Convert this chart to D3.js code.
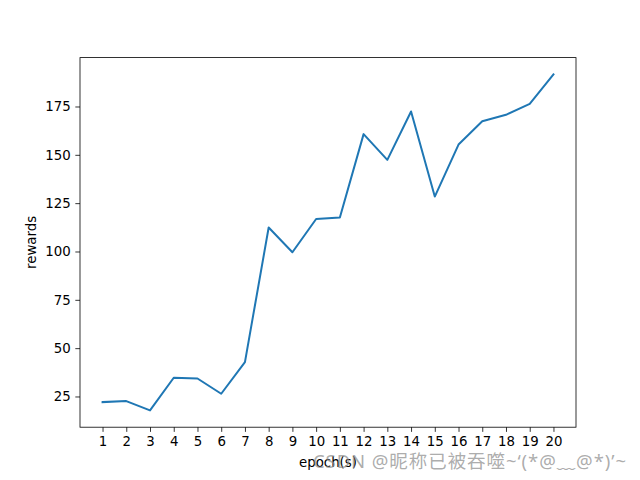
<!DOCTYPE html>
<html><head><meta charset="utf-8">
<script src="https://cdn.jsdelivr.net/npm/d3@7"></script>
<style>body{margin:0;background:#fff}svg{display:block}</style>
</head><body>
<svg id="c" width="640" height="480"></svg>
<script>
const epochs = [1,2,3,4,5,6,7,8,9,10,11,12,13,14,15,16,17,18,19,20];
const rewards = [22.1,22.6,17.8,34.7,34.3,26.4,42.8,112.4,99.6,116.8,117.6,160.7,147.4,172.4,128.4,155.3,167.4,170.7,176.4,191.6];
const yTicks = [25,50,75,100,125,150,175];
const xLabel = "epoch(s)";
const yLabel = "rewards";
const watermark = "CSDN @昵称已被吞噬~‘(*@﹏@*)’~";

const svg = d3.select("#c");
const L=80,R=576,T=57.6,B=427.2;
const xmin=d3.min(epochs), xmax=d3.max(epochs);
const ymin=d3.min(rewards), ymax=d3.max(rewards);
const xp=(xmax-xmin)*0.05, yp=(ymax-ymin)*0.05;
const x=d3.scaleLinear().domain([xmin-xp,xmax+xp]).range([L,R]);
const y=d3.scaleLinear().domain([ymin-yp,ymax+yp]).range([B,T]);
const font='"DejaVu Sans", sans-serif';

const xa=svg.append("g").attr("transform",`translate(0,${B})`)
  .call(d3.axisBottom(x).tickValues(epochs).tickSize(4.67).tickPadding(4.7).tickSizeOuter(0));
const ya=svg.append("g").attr("transform",`translate(${L},0)`)
  .call(d3.axisLeft(y).tickValues(yTicks).tickSize(4.67).tickPadding(4.7).tickSizeOuter(0));
[xa,ya].forEach(a=>{
  a.select(".domain").remove();
  a.selectAll("line").attr("stroke","#000").attr("stroke-width",0.8);
  a.selectAll("text").attr("font-family",font).attr("font-size","13.33px").attr("fill","#000");
});

svg.append("path").datum(epochs.map((e,i)=>[e,rewards[i]]))
  .attr("fill","none").attr("stroke","#1f77b4").attr("stroke-width",2)
  .attr("stroke-linejoin","round").attr("stroke-linecap","square")
  .attr("d",d3.line().x(d=>x(d[0])).y(d=>y(d[1])));

svg.append("rect").attr("x",L).attr("y",T).attr("width",R-L).attr("height",B-T)
  .attr("fill","none").attr("stroke","#000").attr("stroke-width",0.8);

svg.append("text").attr("x",(L+R)/2).attr("y",467).attr("text-anchor","middle")
  .attr("font-family",font).attr("font-size","13.33px").text(xLabel);
svg.append("text").attr("transform",`translate(36,${(T+B)/2}) rotate(-90)`).attr("text-anchor","middle")
  .attr("font-family",font).attr("font-size","13.33px").text(yLabel);

svg.append("text").attr("x",313).attr("y",468)
  .attr("font-family",'"Noto Sans", "Noto Sans CJK SC", sans-serif').attr("font-size","18.5px")
  .attr("textLength",313).attr("lengthAdjust","spacing")
  .attr("fill","#888").attr("fill-opacity",0.7).text(watermark);
</script>
</body></html>
